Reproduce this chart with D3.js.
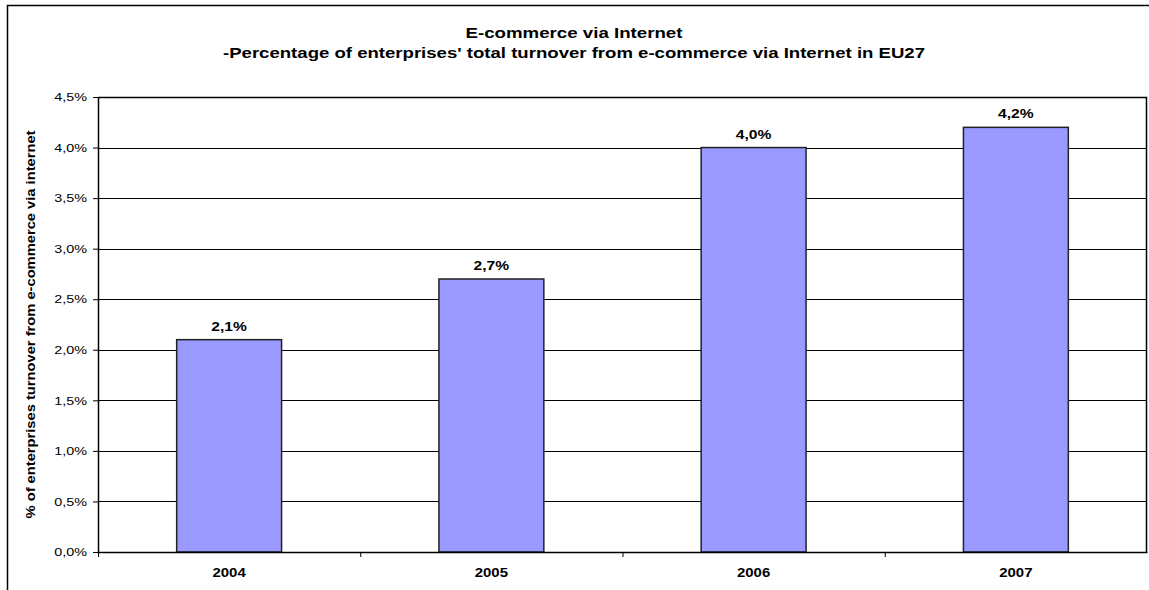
<!DOCTYPE html>
<html>
<head>
<meta charset="utf-8">
<script src="https://cdn.jsdelivr.net/npm/d3@7"></script>
<style>
  body { margin: 0; background: #fff; }
  svg { display: block; font-family: Arial, "Liberation Sans", sans-serif; }
</style>
</head>
<body>
<div id="chart"></div>
<script>
const years = ["2004", "2005", "2006", "2007"];
const shares = [2.1, 2.7, 4.0, 4.2];
const yTicks = [0, 0.5, 1, 1.5, 2, 2.5, 3, 3.5, 4, 4.5];

const width = 1149;
const height = 590;
const margin = { top: 97, right: 2, bottom: 38, left: 98 };
const innerW = width - margin.left - margin.right;
const innerH = height - margin.top - margin.bottom;

// the original picture is stretched sideways, so text gets a horizontal scale
const stretch = 1.25;

const fmt = v => d3.format(".1f")(v).replace(".", ",") + "%";

const svg = d3.select("#chart")
  .append("svg")
  .attr("width", width)
  .attr("height", height);

// outer chart frame
svg.append("path")
  .attr("d", `M7.5,${height} V5.5 H${width}`)
  .attr("fill", "none")
  .attr("stroke", "#000")
  .attr("stroke-width", 1.5);

svg.append("text")
  .attr("x", 574)
  .attr("y", 38)
  .attr("text-anchor", "middle")
  .attr("font-size", 15)
  .attr("font-weight", "bold")
  .attr("textLength", 217)
  .attr("lengthAdjust", "spacingAndGlyphs")
  .text("E-commerce via Internet");

svg.append("text")
  .attr("x", 574)
  .attr("y", 58)
  .attr("text-anchor", "middle")
  .attr("font-size", 15)
  .attr("font-weight", "bold")
  .attr("textLength", 702)
  .attr("lengthAdjust", "spacingAndGlyphs")
  .text("-Percentage of enterprises' total turnover from e-commerce via Internet in EU27");

const g = svg.append("g")
  .attr("transform", `translate(${margin.left},${margin.top})`);

const x = d3.scaleBand()
  .domain(years)
  .range([0, innerW]);

const y = d3.scaleLinear()
  .domain([0, 4.5])
  .range([innerH, 0]);

// gridlines
g.selectAll(".grid")
  .data(yTicks.slice(1))
  .enter()
  .append("line")
  .attr("x1", 0)
  .attr("x2", innerW)
  .attr("y1", d => Math.round(y(d)) + 0.5)
  .attr("y2", d => Math.round(y(d)) + 0.5)
  .attr("stroke", "#000")
  .attr("stroke-width", 1);

// plot border (top + right)
g.append("path")
  .attr("d", `M0,${y(4.5) + 0.5} H${innerW - 0.5} V${innerH}`)
  .attr("fill", "none")
  .attr("stroke", "#000")
  .attr("stroke-width", 1.5);

const barW = x.bandwidth() * 0.4;

g.selectAll(".bar")
  .data(shares)
  .enter()
  .append("rect")
  .attr("x", (d, i) => x(years[i]) + (x.bandwidth() - barW) / 2)
  .attr("y", d => y(d))
  .attr("width", barW)
  .attr("height", d => innerH - y(d))
  .attr("fill", "#9999ff")
  .attr("stroke", "#222")
  .attr("stroke-width", 1.5);

g.selectAll(".val")
  .data(shares)
  .enter()
  .append("text")
  .attr("transform", (d, i) =>
    `translate(${x(years[i]) + x.bandwidth() / 2},${y(d) - 9}) scale(${stretch},1)`)
  .attr("text-anchor", "middle")
  .attr("font-size", 12.5)
  .attr("font-weight", "bold")
  .text(d => fmt(d));

// y axis
const yAxis = g.append("g")
  .call(d3.axisLeft(y).tickValues(yTicks).tickSize(5).tickSizeOuter(0).tickFormat(fmt));
yAxis.select(".domain").attr("stroke", "#000").attr("stroke-width", 1.5);
yAxis.selectAll(".tick text")
  .attr("font-size", 11.5)
  .attr("font-family", "Arial, 'Liberation Sans', sans-serif")
  .attr("fill", "#000")
  .attr("x", 0)
  .attr("transform", `translate(-11,0) scale(${stretch},1)`);

// x axis
const xAxis = g.append("g")
  .attr("transform", `translate(0,${innerH})`)
  .call(d3.axisBottom(x).tickSize(0).tickSizeOuter(0));
xAxis.select(".domain").attr("stroke", "#000").attr("stroke-width", 1.5);
xAxis.selectAll(".tick text")
  .attr("font-size", 13)
  .attr("font-weight", "bold")
  .attr("font-family", "Arial, 'Liberation Sans', sans-serif")
  .attr("fill", "#000")
  .attr("dy", 0)
  .attr("y", 0)
  .attr("transform", `translate(0,25) scale(1.15,1)`);

// category boundary ticks
xAxis.selectAll(".sep")
  .data(years)
  .enter()
  .append("line")
  .attr("x1", d => x(d) + 0.5)
  .attr("x2", d => x(d) + 0.5)
  .attr("y1", 0)
  .attr("y2", 5)
  .attr("stroke", "#000");

svg.append("text")
  .attr("transform", `translate(35,${margin.top + innerH / 2}) rotate(-90)`)
  .attr("text-anchor", "middle")
  .attr("font-size", 12)
  .attr("font-weight", "bold")
  .attr("textLength", 388)
  .attr("lengthAdjust", "spacingAndGlyphs")
  .text("% of enterprises turnover from e-commerce via internet");
</script>
</body>
</html>
